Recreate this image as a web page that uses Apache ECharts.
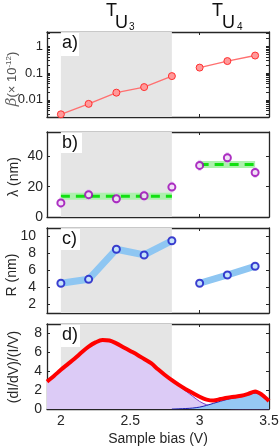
<!DOCTYPE html>
<html>
<head>
<meta charset="utf-8">
<script src="https://cdn.jsdelivr.net/npm/echarts@6/dist/echarts.min.js"></script>
<style>html,body{margin:0;padding:0;background:#fff}#c{width:280px;height:448px}</style>
</head>
<body>
<div id="c"></div>
<script>
// ---------- data ----------
const biasU3 = [2.0, 2.2, 2.4, 2.6, 2.8];
const biasU4 = [3.0, 3.2, 3.4];
const betaU3 = [0.0029, 0.0071, 0.0186, 0.030, 0.077];
const betaU4 = [0.16, 0.28, 0.45];
const lambdaU3 = [9.3, 14.7, 12.0, 14.0, 19.7];
const lambdaU4 = [34.0, 39.0, 29.3];
const lambdaFitU3 = 13.7;
const lambdaFitU4 = 34.6;
const rU3 = [4.5, 4.96, 8.5, 7.83, 9.5];
const rU4 = [4.5, 5.47, 6.5];
const specBias  = [1.90,1.95,2.00,2.05,2.10,2.15,2.20,2.25,2.30,2.35,2.40,2.45,2.50,2.55,2.60,2.65,2.70,2.75,2.80,2.85,2.90,2.95,3.00,3.05,3.10,3.15,3.20,3.25,3.30,3.35,3.40,3.45,3.50];
const specTotal = [2.9,3.5,4.15,4.75,5.35,6.0,6.6,7.05,7.3,7.25,6.95,6.55,6.15,5.75,5.3,4.85,4.2,3.6,3.05,2.55,2.1,1.7,1.3,1.0,0.9,1.05,1.2,1.3,1.4,1.6,1.85,1.5,0.85];
const specU3    = [2.9,3.5,4.1,4.7,5.3,5.95,6.5,6.95,7.2,7.15,6.9,6.5,6.1,5.7,5.25,4.8,4.15,3.55,3.0,2.45,1.9,1.35,0.8,0.45,0.22,0.1,0.04,0.01,0,0,0,0,0];
const specU4    = [null,null,null,null,null,null,null,null,null,null,null,null,null,null,null,null,null,null,0,0.02,0.05,0.1,0.2,0.38,0.6,0.82,1.02,1.18,1.33,1.5,1.68,1.45,0.85];
const xTicks = [2, 2.5, 3, 3.5];
const betaTicks = [0.01, 0.1, 1];
const betaMinorTicks = [0.003,0.004,0.005,0.006,0.007,0.008,0.009,0.01,0.02,0.03,0.04,0.05,0.06,0.07,0.08,0.09,0.1,0.2,0.3,0.4,0.5,0.6,0.7,0.8,0.9,1,2,3];
const lambdaTicks = [0, 20, 40];
const rTicks = [2, 4, 6, 8, 10];
const specTicks = [0, 2, 4, 6, 8];
const shadeRange = [2.0, 2.8];
const panelLabels = ['a)', 'b)', 'c)', 'd)'];
const yTitles = ['{g|β}{n|(× 10}{s|-12}{n|)}', 'λ (nm)', 'R (nm)', '(dI/dV)/(I/V)'];

// ---------- layout / style ----------
const FF = 'Liberation Sans';
const INK = '#262626';
const tops = [32, 132, 228, 324];
const H = 85;
const pairs = (xs, ys) => xs.map((x, i) => [x, ys[i]]);

const grids = tops.map(t => ({left: 47, right: 11, top: t, height: H, containLabel: false, outerBoundsMode: 'none'}));

const xAxes = [];
for (let i = 0; i < 4; i++) {
  for (const top of [false, true]) {
    xAxes.push({
      type: 'value', gridIndex: i, min: 1.9, max: 3.5, position: top ? 'top' : 'bottom',
      axisLine: {show: true, onZero: false, lineStyle: {color: INK, width: 1.3}},
      axisTick: {show: true, inside: true, length: 3, customValues: xTicks, lineStyle: {color: INK}},
      axisLabel: {show: !top && i === 3, customValues: xTicks, color: INK, fontSize: 14, fontFamily: FF, margin: 5},
      splitLine: {show: false},
      name: (!top && i === 3) ? 'Sample bias (V)' : '',
      nameLocation: 'middle', nameGap: 23,
      nameTextStyle: {fontSize: 14, fontFamily: FF, color: INK}
    });
  }
}

const yCfg = [
  {type: 'log', min: 0.0023, max: 3.4, ticks: betaMinorTicks, labels: betaTicks, fs: 13, margin: 4},
  {type: 'value', min: 0, max: 56, ticks: lambdaTicks, labels: lambdaTicks, fs: 14, margin: 4},
  {type: 'value', min: 1, max: 11, ticks: rTicks, labels: rTicks, fs: 14, margin: 11},
  {type: 'value', min: 0, max: 9, ticks: specTicks, labels: specTicks, fs: 14, margin: 5}
];
const yAxes = [];
yCfg.forEach((c, i) => {
  for (const right of [false, true]) {
    const ax = {
      type: c.type, gridIndex: i, min: c.min, max: c.max, position: right ? 'right' : 'left',
      axisLine: {show: true, onZero: false, lineStyle: {color: INK, width: 1.3}},
      axisTick: {show: true, inside: true, length: 3, customValues: c.ticks, lineStyle: {color: INK}},
      axisLabel: {show: !right, customValues: c.labels, color: INK, fontSize: c.fs, fontFamily: FF, margin: c.margin,
                  formatter: v => String(v)},
      splitLine: {show: false}
    };
    if (c.type === 'log') ax.logBase = 10;
    yAxes.push(ax);
  }
});

const series = [];
// gray shading
for (let i = 0; i < 4; i++) {
  series.push({
    type: 'line', xAxisIndex: i * 2, yAxisIndex: i * 2, data: [], z: 1, silent: true,
    markArea: {silent: true, itemStyle: {color: '#e5e5e5'}, data: [[{xAxis: shadeRange[0]}, {xAxis: shadeRange[1]}]]}
  });
}
// panel a
[[biasU3, betaU3], [biasU4, betaU4]].forEach(([xs, ys]) => {
  series.push({
    type: 'line', xAxisIndex: 0, yAxisIndex: 0, z: 5, data: pairs(xs, ys),
    lineStyle: {color: '#ff7070', width: 1.4},
    symbol: 'circle', symbolSize: 7,
    itemStyle: {color: '#ff9a9a', borderColor: '#ff3030', borderWidth: 1}
  });
});
// panel b
[[biasU3, lambdaFitU3], [biasU4, lambdaFitU4]].forEach(([xs, f]) => {
  const d = [[xs[0], f], [xs[xs.length - 1], f]];
  series.push({type: 'line', xAxisIndex: 2, yAxisIndex: 2, z: 3, data: d, symbol: 'none',
    lineStyle: {color: '#aef0ae', width: 7, cap: 'butt'}});
  series.push({type: 'line', xAxisIndex: 2, yAxisIndex: 2, z: 4, data: d, symbol: 'none',
    lineStyle: {color: '#11e011', width: 3, type: [9, 6], cap: 'butt'}});
});
const lamAll = pairs(biasU3.concat(biasU4), lambdaU3.concat(lambdaU4));
series.push({type: 'scatter', xAxisIndex: 2, yAxisIndex: 2, z: 5, data: lamAll,
  symbol: 'rect', symbolSize: [3, 11], itemStyle: {color: '#e4c2f2'}});
series.push({type: 'scatter', xAxisIndex: 2, yAxisIndex: 2, z: 6, data: lamAll,
  symbol: 'circle', symbolSize: 7, itemStyle: {color: '#f3e4f7', borderColor: '#9a00b4', borderWidth: 2}});
// panel c
[[biasU3, rU3], [biasU4, rU4]].forEach(([xs, ys]) => {
  series.push({type: 'line', xAxisIndex: 4, yAxisIndex: 4, z: 4, data: pairs(xs, ys), symbol: 'none',
    lineStyle: {color: '#8ec6f2', width: 7, join: 'round', cap: 'round'}});
  series.push({type: 'scatter', xAxisIndex: 4, yAxisIndex: 4, z: 6, data: pairs(xs, ys),
    symbol: 'circle', symbolSize: 7, itemStyle: {color: '#d6ebfb', borderColor: '#1414c4', borderWidth: 2}});
});
// panel d
series.push({type: 'line', xAxisIndex: 6, yAxisIndex: 6, z: 3, data: pairs(specBias, specU3), symbol: 'none', smooth: 0.3,
  lineStyle: {color: '#7b3cc8', width: 1}, areaStyle: {color: '#dccbf6', opacity: 1}});
series.push({type: 'line', xAxisIndex: 6, yAxisIndex: 6, z: 4, data: pairs(specBias, specU4), symbol: 'none', smooth: 0.3,
  lineStyle: {color: '#1e1eb4', width: 1}, areaStyle: {color: '#96c8f5', opacity: 1}});
series.push({type: 'line', xAxisIndex: 6, yAxisIndex: 6, z: 5, data: pairs(specBias, specTotal), symbol: 'none', smooth: 0.3,
  lineStyle: {color: '#ff0000', width: 4}});

// ---------- decorations ----------
const boxes = [[61, 33, 18, 23], [61, 133, 21, 20], [61, 229, 19, 21], [61, 325, 19, 22]];
const titleCenters = [[12, 79], [14, 177], [12, 275], [14, 367]];
const graphic = [];
boxes.forEach((b, i) => {
  graphic.push({type: 'rect', left: b[0], top: b[1], shape: {width: b[2], height: b[3]}, style: {fill: '#fff'}, z: 50, silent: true});
  graphic.push({type: 'text', left: b[0] + 1, top: b[1] + 1, z: 51,
    style: {text: panelLabels[i], font: '18px ' + FF, fill: '#111'}});
  graphic.push({type: 'text', x: titleCenters[i][0], y: titleCenters[i][1], rotation: Math.PI / 2, z: 51,
    style: {text: yTitles[i], font: '14px ' + FF, fill: INK, align: 'center', verticalAlign: 'middle',
      rich: {
        g: {font: 'italic 15px DejaVu Serif', fill: '#666'},
        n: {font: '13px ' + FF, fill: '#555'},
        s: {font: '8px ' + FF, fill: '#555', verticalAlign: 'top'}
      }}});
});
[['T', 106, 2, 18], ['U', 115, 14, 18], ['3', 129, 22, 10],
 ['T', 212, 2, 18], ['U', 222, 14, 18], ['4', 237, 22, 10]].forEach(([t, x, y, s]) => {
  graphic.push({type: 'text', left: x, top: y, z: 51, style: {text: t, font: s + 'px ' + FF, fill: '#111'}});
});

const chart = echarts.init(document.getElementById('c'), null, {renderer: 'canvas'});
chart.setOption({
  animation: false,
  backgroundColor: '#fff',
  grid: grids,
  xAxis: xAxes,
  yAxis: yAxes,
  series: series,
  graphic: graphic
});
</script>
</body>
</html>
